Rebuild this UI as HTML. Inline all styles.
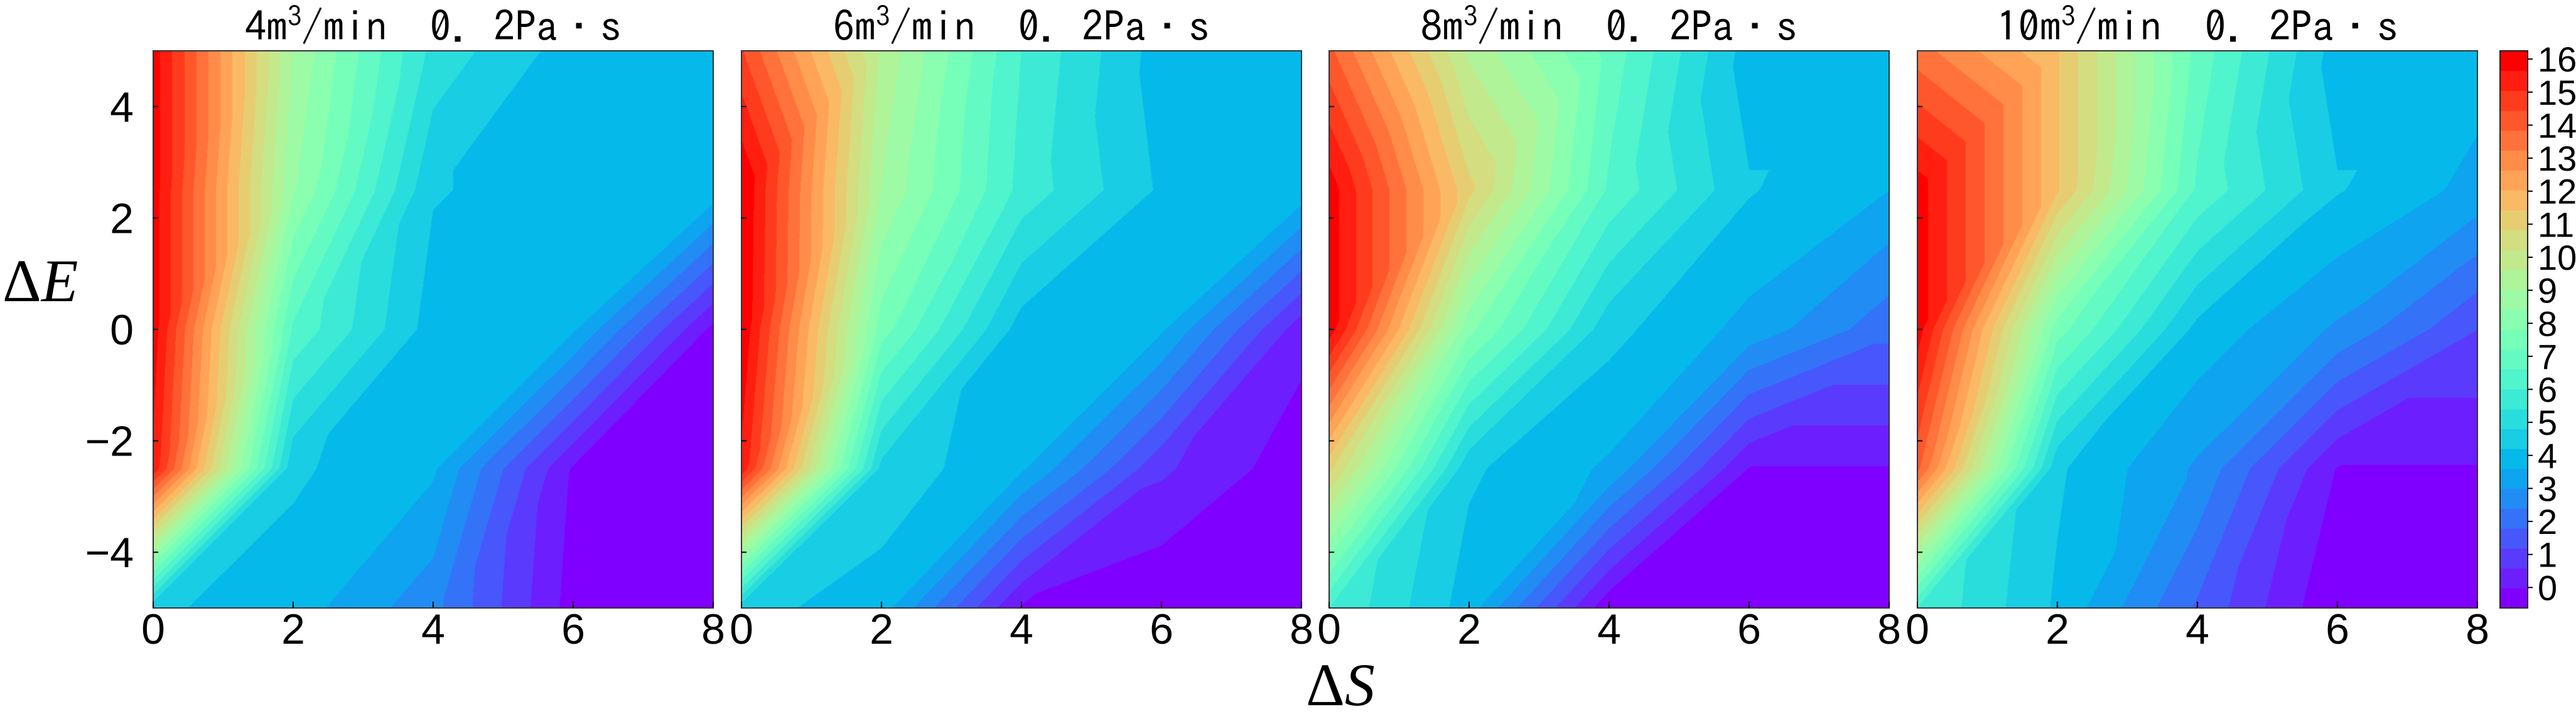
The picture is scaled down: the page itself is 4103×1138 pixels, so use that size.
<!DOCTYPE html>
<html><head><meta charset="utf-8"><style>
html,body{margin:0;padding:0;background:#fff;}
#wrap{position:relative;width:4103px;height:1138px;overflow:hidden;background:#fff;}
canvas{position:absolute;}
svg{position:absolute;left:0;top:0;}
.tk{font-family:"Liberation Sans Narrow","Liberation Sans",sans-serif;font-size:68px;fill:#000;}
.cb{font-family:"Liberation Sans Narrow","Liberation Sans",sans-serif;font-size:56px;fill:#000;}
.ttl{font-family:"Liberation Sans Narrow","IPAGothic","Noto Sans CJK JP",sans-serif;font-size:66px;fill:#000;}
.ax{font-family:"Liberation Serif",serif;font-size:96px;fill:#000;}
</style></head><body>
<div id="wrap">
<canvas id="c0" width="892" height="888" style="left:244px;top:81px"></canvas>
<canvas id="c1" width="892" height="888" style="left:1181px;top:81px"></canvas>
<canvas id="c2" width="892" height="888" style="left:2117px;top:81px"></canvas>
<canvas id="c3" width="892" height="888" style="left:3054px;top:81px"></canvas>
<svg id="ov" width="4103" height="1138"></svg>
</div>
<script>
// grid coordinates
const gridX = [0, 2, 4, 6, 8];
const gridY = [5, 2.5, 0, -2.5, -5];
// values per panel (rows follow gridY, cols follow gridX)
const panel4Z = [
  [16, 9, 5.2, 3.9, 3.9],
  [16, 8.5, 4.25, 3.9, 4.0],
  [16, 6.5, 3.9, 3.7, -0.2],
  [15.5, 4.3, 3.7, -0.1, -0.6],
  [4.3, 3.9, 2.6, -0.3, -0.6]
];
const panel6Z = [
  [14.5, 9.5, 6.0, 3.9, 3.9],
  [16.3, 9.0, 5.8, 4.1, 4.0],
  [16.2, 7.5, 3.9, 3.7, 0.2],
  [15.5, 4.6, 3.7, 0.7, -0.4],
  [4.4, 3.9, -0.1, -0.6, -0.6]
];
const panel8Z = [
  [14, 9.5, 7.0, 3.9, 3.9],
  [16, 11, 6.5, 4.25, 3.6],
  [16, 8.0, 4.4, 3.4, 2.0],
  [11, 4.3, 3.5, -0.05, -0.05],
  [6, 3.9, -0.5, -0.6, -0.6]
];
const panel10Z = [
  [13.5, 11.5, 7.0, 3.9, 3.9],
  [16, 11.5, 6.5, 4.25, 3.4],
  [16, 7.5, 4.0, 2.9, 1.2],
  [14, 4.3, 2.9, -0.05, -0.05],
  [6, 4.1, 1.7, -0.6, -0.6]
];
const panelTitles = ["4", "6", "8", "10"];
const xTicks = [0, 2, 4, 6, 8];
const yTicks = [4, 2, 0, -2, -4];
const cbTicks = [0,1,2,3,4,5,6,7,8,9,10,11,12,13,14,15,16];
const levelMin = -0.62, levelMax = 16.25, nBands = 28;

const panels = [panel4Z, panel6Z, panel8Z, panel10Z];
const lefts = [244, 1181, 2117, 3054];
const PW = 892, PH = 888, PT = 81;

function cmap(t){
  const r = Math.min(1, Math.abs(2*t - 0.5));
  const g = Math.sin(Math.PI*t);
  const b = Math.cos(Math.PI*t/2);
  return [Math.round(r*255), Math.round(Math.max(0,g)*255), Math.round(Math.max(0,b)*255)];
}
const bw = (levelMax - levelMin)/nBands;
const bandColors = [];
for (let i=0;i<nBands;i++) bandColors.push(cmap(i/(nBands-1)));

function xScale(v){ return v/8*PW; }
function yScale(v){ return (5 - v)/10*PH; }

function interp(Z, x, y){
  let i = 0; while (i < gridX.length-2 && x > gridX[i+1]) i++;
  let j = 0; while (j < gridY.length-2 && y < gridY[j+1]) j++;
  const tx = (x - gridX[i])/(gridX[i+1]-gridX[i]);
  const tu = 1 - (y - gridY[j])/(gridY[j+1]-gridY[j]);
  const a = Z[j][i], b = Z[j][i+1], c = Z[j+1][i], d = Z[j+1][i+1];
  if (tu <= tx) return c + (d-c)*tx + (b-d)*tu;
  return c + (a-c)*tu + (b-a)*tx;
}

panels.forEach((Z, k) => {
  const cv = document.getElementById('c'+k);
  const ctx = cv.getContext('2d');
  const img = ctx.createImageData(PW, PH);
  for (let py=0; py<PH; py++){
    const y = 5 - (py+0.5)/PH*10;
    for (let px=0; px<PW; px++){
      const x = (px+0.5)/PW*8;
      const v = interp(Z, x, y);
      let idx = Math.floor((v - levelMin)/bw);
      if (idx < 0) idx = 0; if (idx > nBands-1) idx = nBands-1;
      const col = bandColors[idx];
      const o = (py*PW+px)*4;
      img.data[o]=col[0]; img.data[o+1]=col[1]; img.data[o+2]=col[2]; img.data[o+3]=255;
    }
  }
  ctx.putImageData(img, 0, 0);
});

const NS = "http://www.w3.org/2000/svg";
const svg = document.getElementById('ov');
function mk(tag, attrs, txt){
  const e = document.createElementNS(NS, tag);
  for (const a in attrs) e.setAttribute(a, attrs[a]);
  if (txt !== undefined) e.textContent = txt;
  svg.appendChild(e); return e;
}

panels.forEach((Z, k) => {
  const L = lefts[k];
  const fr = mk('rect', {x:L, y:PT, width:PW, height:PH, fill:'none', stroke:'#333', 'stroke-width':2});
  
  
  const t = mk('text', {x:L+PW/2, y:66, 'text-anchor':'middle', class:'ttl', textLength:(k===3?640:600), lengthAdjust:'spacingAndGlyphs'});
  
  
  const s1 = document.createElementNS(NS,'tspan'); s1.textContent = panelTitles[k]+'m'; t.appendChild(s1);
  const s2 = document.createElementNS(NS,'tspan'); s2.textContent = '3'; s2.setAttribute('dy','-24'); s2.setAttribute('font-size','44'); t.appendChild(s2);
  const s3 = document.createElementNS(NS,'tspan'); s3.textContent = '/min\u00a0\u00a00.\u00a02Pa\u30fbs'; s3.setAttribute('dy','24'); t.appendChild(s3);
  xTicks.forEach(v => {
    const x = L + xScale(v);
    const tl = mk('line', {x1:x, y1:PT+PH, x2:x, y2:PT+PH-10, stroke:'#000', 'stroke-width':2});
    
    
    const lb = mk('text', {x:x, y:1026, 'text-anchor':'middle', class:'tk'}, String(v));
    
    
  });
  yTicks.forEach(v => {
    const y = PT + yScale(v);
    const tl = mk('line', {x1:L, y1:y, x2:L+8, y2:y, stroke:'#000', 'stroke-width':2});
    
    
    if (k === 0){
      const lb = mk('text', {x:213, y:y+24, 'text-anchor':'end', class:'tk'}, v < 0 ? '\u2212'+(-v) : String(v));
      
      
    }
  });
});

const yt = mk('text', {x:4, y:480, class:'ax'});


const ya = document.createElementNS(NS,'tspan'); ya.textContent='\u0394'; yt.appendChild(ya);
const yb = document.createElementNS(NS,'tspan'); yb.textContent='E'; yb.setAttribute('font-style','italic'); yt.appendChild(yb);
const xt = mk('text', {x:2135, y:1124, 'text-anchor':'middle', class:'ax'});


const xa = document.createElementNS(NS,'tspan'); xa.textContent='\u0394'; xt.appendChild(xa);
const xb = document.createElementNS(NS,'tspan'); xb.textContent='S'; xb.setAttribute('font-style','italic'); xt.appendChild(xb);

const CBX = 3982, CBW = 44;
function cbY(v){ return PT + (levelMax - v)/(levelMax - levelMin)*PH; }
bandColors.forEach((col, i) => {
  const y0 = cbY(levelMin + (i+1)*bw), y1 = cbY(levelMin + i*bw);
  const r = mk('rect', {x:CBX, y:y0, width:CBW, height:y1-y0+0.5, fill:'rgb('+col.join(',')+')'});
  
  
});
const cbf = mk('rect', {x:CBX, y:PT, width:CBW, height:PH, fill:'none', stroke:'#222', 'stroke-width':2});


cbTicks.forEach(v => {
  const y = cbY(v);
  const tl = mk('line', {x1:CBX+CBW, y1:y, x2:CBX+CBW+8, y2:y, stroke:'#000', 'stroke-width':2});
  
  
  const lb = mk('text', {x:4042, y:y+20, class:'cb'}, String(v));
  
  
});
</script>
</body></html>
